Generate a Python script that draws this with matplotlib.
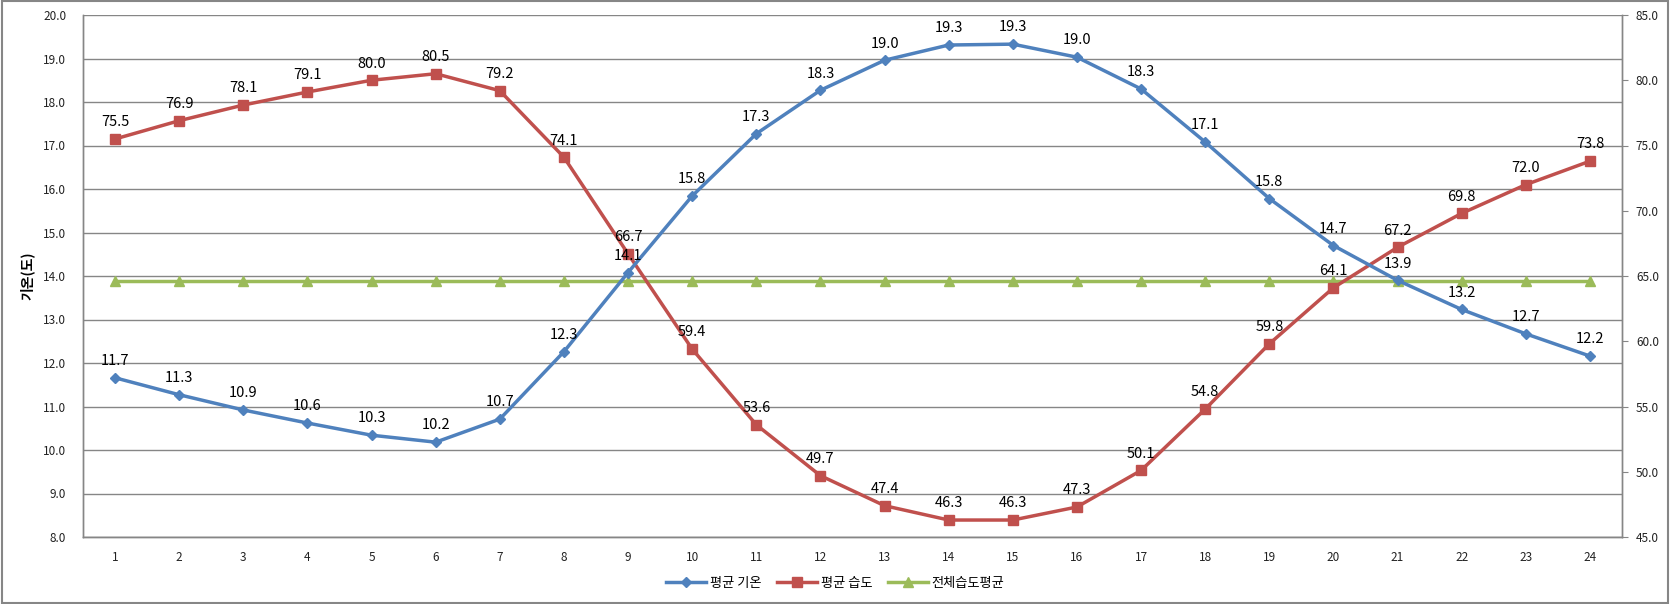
import matplotlib
matplotlib.use("Agg")
import matplotlib.pyplot as plt
from matplotlib.lines import Line2D

plt.rcParams['font.family'] = ['Noto Sans CJK KR', 'DejaVu Sans']

hours = list(range(1, 25))
avg_temp = [11.66, 11.27, 10.92, 10.62, 10.34, 10.18, 10.71, 12.26, 14.08, 15.84,
            17.27, 18.27, 18.96, 19.31, 19.33, 19.03, 18.30, 17.08, 15.78, 14.70,
            13.90, 13.23, 12.67, 12.16]
avg_humid = [75.5, 76.9, 78.1, 79.1, 80.0, 80.5, 79.2, 74.1, 66.7, 59.4,
             53.6, 49.7, 47.4, 46.3, 46.3, 47.3, 50.1, 54.8, 59.8, 64.1,
             67.2, 69.8, 72.0, 73.8]
total_humid_avg = [64.65, 64.65, 64.65, 64.65, 64.65, 64.65, 64.65, 64.65,
                   64.65, 64.65, 64.65, 64.65, 64.65, 64.65, 64.65, 64.65,
                   64.65, 64.65, 64.65, 64.65, 64.65, 64.65, 64.65, 64.65]
left_ticks = [8, 9, 10, 11, 12, 13, 14, 15, 16, 17, 18, 19, 20]
right_ticks = [45, 50, 55, 60, 65, 70, 75, 80, 85]

BLUE = '#4F81BD'
RED = '#C0504D'
GREEN = '#9BBB59'
GRID = '#868686'

fig = plt.figure(figsize=(16.71, 6.04), dpi=100)
ax = fig.add_axes([83 / 1671, 1 - 537 / 604, (1622 - 83) / 1671, (537 - 15) / 604])
ax2 = ax.twinx()

# gridlines follow the left axis
ax.set_ylim(8, 20)
ax.set_yticks(left_ticks)
ax.set_yticklabels([f'{v:.1f}' for v in left_ticks])
ax.yaxis.grid(True, color=GRID, linewidth=1)
ax.set_axisbelow(True)
ax.set_xlim(0.5, 24.5)
ax.set_xticks(hours)
ax.set_xticklabels([str(h) for h in hours])

ax2.set_ylim(45, 85)
ax2.set_yticks(right_ticks)
ax2.set_yticklabels([f'{v:.1f}' for v in right_ticks])

for a in (ax, ax2):
    for s in a.spines.values():
        s.set_color(GRID)
        s.set_linewidth(1)
    a.spines['top'].set_visible(False)
    a.tick_params(labelsize=8.5, colors='#222222', length=0, pad=12)
ax2.tick_params(axis='y', length=4, color=GRID, pad=6)
ax.tick_params(axis='x', pad=10)

ax.set_ylabel('기온(도)', fontsize=10, fontweight='bold', labelpad=6)

# all series on the top axes; temperature uses the left axis scale
ax2.plot(hours, total_humid_avg, color=GREEN, linewidth=2.5, marker='^',
         markersize=7, zorder=2)
ax2.plot(hours, avg_humid, color=RED, linewidth=2.5, marker='s',
         markersize=7, zorder=3)
ax2.plot(hours, avg_temp, color=BLUE, linewidth=2.5, marker='D',
         markersize=5, zorder=4, transform=ax.transData)

for x, v in zip(hours, avg_humid):
    ax2.annotate(f'{v:.1f}', (x, v), xytext=(0, 7), textcoords='offset points',
                 ha='center', va='bottom', fontsize=10.5, zorder=6)
for x, t in zip(hours, avg_temp):
    ax2.annotate(f'{t:.1f}', (x, t), xycoords=ax.transData, xytext=(0, 7),
                 textcoords='offset points', ha='center', va='bottom',
                 fontsize=10.5, zorder=6)

handles = [
    Line2D([], [], color=BLUE, linewidth=2.5, marker='D', markersize=5),
    Line2D([], [], color=RED, linewidth=2.5, marker='s', markersize=7),
    Line2D([], [], color=GREEN, linewidth=2.5, marker='^', markersize=7),
]
fig.legend(handles, ['평균 기온', '평균 습도', '전체습도평균'], loc='center',
           bbox_to_anchor=(0.5, 1 - 583 / 604), ncol=3, frameon=False,
           fontsize=9.5, handlelength=3, columnspacing=1.2, handletextpad=0.3)

# outer border
fig.patches.append(plt.Rectangle((0.001, 0.002), 0.997, 0.996, transform=fig.transFigure,
                                 fill=False, edgecolor=GRID, linewidth=1.5))

fig.savefig('out.png', dpi=100)
